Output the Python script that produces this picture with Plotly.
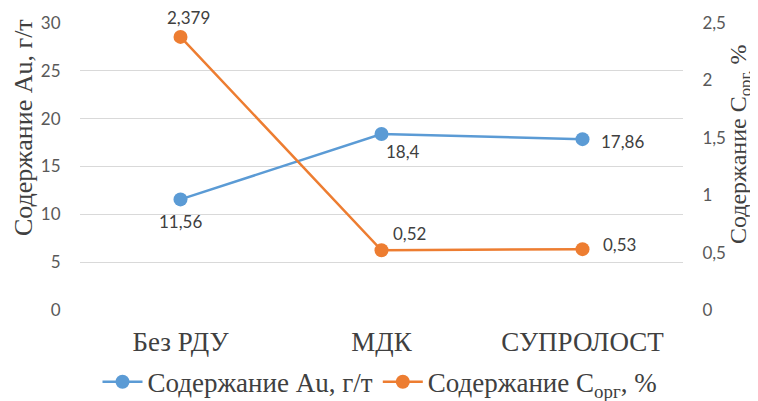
import plotly.graph_objects as go

categories = ["Без РДУ", "МДК", "СУПРОЛОСТ"]
au_values = [11.56, 18.4, 17.86]
corg_values = [2.379, 0.52, 0.53]
au_labels = ["11,56", "18,4", "17,86"]
corg_labels = ["2,379", "0,52", "0,53"]

left_ticks = [0, 5, 10, 15, 20, 25, 30]
right_ticks = [0, 0.5, 1, 1.5, 2, 2.5]
right_ticktext = ["0", "0,5", "1", "1,5", "2", "2,5"]

# data-label pixel offsets (style only)
au_shift = [(0, -22), (21, -18), (40, -2)]
corg_shift = [(8, 19), (28, 17), (37, 5)]

BLUE = "#5B9BD5"
ORANGE = "#ED7D31"
SERIF = "Liberation Serif"
SANS = "Lato"
TXT = "#404040"

fig = go.Figure()
fig.add_trace(go.Scatter(
    x=categories, y=au_values, mode="lines+markers",
    name="Содержание Au, г/т",
    line=dict(color=BLUE, width=2.5),
    marker=dict(color=BLUE, size=14),
    yaxis="y",
))
fig.add_trace(go.Scatter(
    x=categories, y=corg_values, mode="lines+markers",
    name="Содержание C<sub>орг</sub>, %",
    line=dict(color=ORANGE, width=2.5),
    marker=dict(color=ORANGE, size=14),
    yaxis="y2",
))

annotations = []
for c, v, t, (dx, dy) in zip(categories, au_values, au_labels, au_shift):
    annotations.append(dict(x=c, y=v, xref="x", yref="y", text=t, showarrow=False,
                            xshift=dx, yshift=dy, font=dict(family=SANS, size=17, color=TXT)))
for c, v, t, (dx, dy) in zip(categories, corg_values, corg_labels, corg_shift):
    annotations.append(dict(x=c, y=v, xref="x", yref="y2", text=t, showarrow=False,
                            xshift=dx, yshift=dy, font=dict(family=SANS, size=17, color=TXT)))

# axis titles
annotations.append(dict(x=0, y=0.634, xref="paper", yref="paper", xanchor="center", yanchor="middle",
                        xshift=-57, textangle=-90, showarrow=False,
                        text="Содержание Au, г/т", font=dict(family=SERIF, size=26, color=TXT)))
annotations.append(dict(x=1, y=0.578, xref="paper", yref="paper", xanchor="center", yanchor="middle",
                        xshift=57, textangle=-90, showarrow=False,
                        text="Содержание C<sub>орг,</sub> %", font=dict(family=SERIF, size=24, color=TXT)))

# the page body adds an 8px offset, so the figure is 8px smaller than the window
fig.update_layout(
    width=750, height=393,
    margin=dict(l=72, r=75, t=15, b=91, autoexpand=False),
    paper_bgcolor="white", plot_bgcolor="white",
    separators=",.",
    showlegend=True,
    legend=dict(orientation="h", xref="container", yref="container",
                x=0.496, xanchor="center", y=0.048, yanchor="middle",
                font=dict(family=SERIF, size=27, color=TXT),
                itemwidth=40, tracegroupgap=0),
    xaxis=dict(
        type="category", showgrid=False, showline=False, zeroline=False, automargin=False,
        tickfont=dict(family=SERIF, size=27, color=TXT),
        ticks="outside", ticklen=8, tickcolor="rgba(0,0,0,0)",
        range=[-0.5, 2.5],
    ),
    yaxis=dict(
        range=[0, 30], tickvals=left_ticks, automargin=False,
        showgrid=True, gridcolor="#d9d9d9", gridwidth=1.3,
        zeroline=False, showline=False,
        ticks="outside", ticklen=15, tickcolor="rgba(0,0,0,0)",
        tickfont=dict(family=SANS, size=17, color="#595959"),
    ),
    yaxis2=dict(
        range=[0, 2.5], tickvals=right_ticks, ticktext=right_ticktext, automargin=False,
        overlaying="y", side="right",
        showgrid=False, zeroline=False, showline=False,
        ticks="outside", ticklen=15, tickcolor="rgba(0,0,0,0)",
        tickfont=dict(family=SANS, size=17, color="#595959"),
    ),
    annotations=annotations,
)

fig.write_html("out.html")
